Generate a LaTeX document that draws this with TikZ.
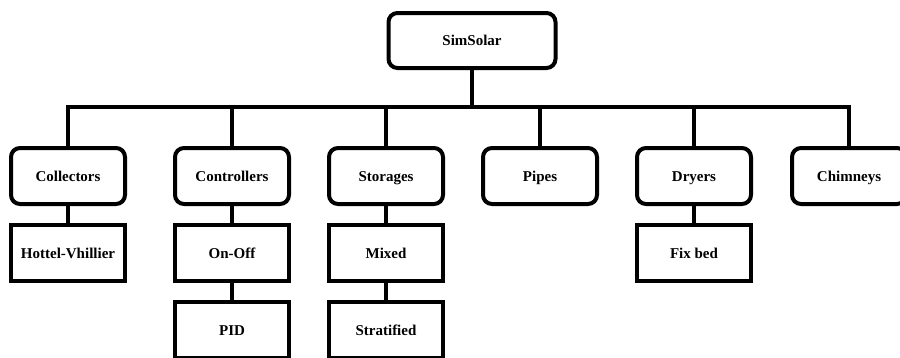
\documentclass[tikz,border=0pt]{standalone}
\usepackage{fontspec}
\setmainfont{Liberation Serif}
\usepackage{tikz}
\usetikzlibrary{positioning}

\begin{document}
\begin{tikzpicture}[x=1pt, y=-1pt,
    box/.style={draw=black, line width=4pt, minimum width=114pt, minimum height=56pt,
      inner sep=0pt, text height=10pt, text depth=0pt,
      font=\fontsize{15}{18}\selectfont\bfseries, fill=white},
    group/.style={box, rounded corners=9pt},
    link/.style={draw=black, line width=4pt}]
  \clip (0,0) rectangle (900,357);
  \fill[white] (0,0) rectangle (900,357);

  % root
  \node[group, minimum width=167pt, minimum height=55pt] (simsolar) at (472,40.5) {SimSolar};
  \coordinate (bus) at (472,107);

  % modules
  \node[group] (collectors)  at (68,176)  {Collectors};
  \node[group] (controllers) at (232,176) {Controllers};
  \node[group] (storages)    at (386,176) {Storages};
  \node[group] (pipes)       at (540,176) {Pipes};
  \node[group] (dryers)      at (694,176) {Dryers};
  \node[group] (chimneys)    at (849,176) {Chimneys};

  % models
  \node[box] (hottel)     at (68,253)  {Hottel-Vhillier};
  \node[box] (onoff)      at (232,253) {On-Off};
  \node[box] (pid)        at (232,330) {PID};
  \node[box] (mixed)      at (386,253) {Mixed};
  \node[box] (stratified) at (386,330) {Stratified};
  \node[box] (fixbed)     at (694,253) {Fix bed};

  \foreach \m in {collectors,controllers,storages,pipes,dryers,chimneys}
    \draw[link, line join=miter] (simsolar.south) -- (bus) -| (\m.north);

  \draw[link] (collectors) -- (hottel);
  \draw[link] (controllers) -- (onoff);
  \draw[link] (onoff) -- (pid);
  \draw[link] (storages) -- (mixed);
  \draw[link] (mixed) -- (stratified);
  \draw[link] (dryers) -- (fixbed);
\end{tikzpicture}
\end{document}
